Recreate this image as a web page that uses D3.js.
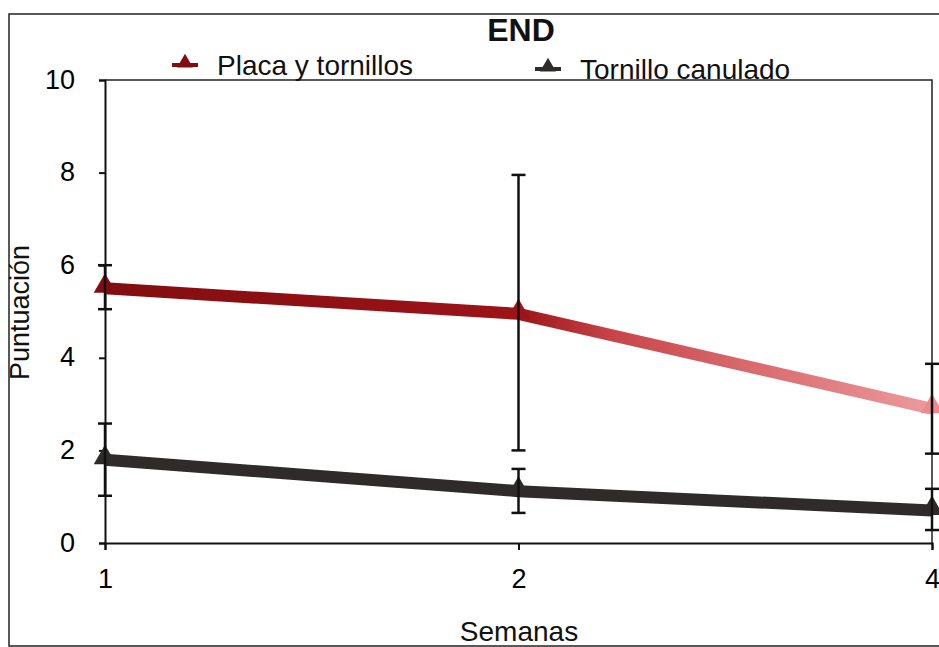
<!DOCTYPE html>
<html>
<head>
<meta charset="utf-8">
<script src="https://cdn.jsdelivr.net/npm/d3@7"></script>
<style>
  body { margin: 0; background: #fff; }
  svg { font-family: "Liberation Sans", Arial, sans-serif; }
</style>
</head>
<body>
<svg id="chart" width="939" height="647"></svg>
<script>
// data
var semanas = ["1", "2", "4"];
var placaMedia = [5.5, 4.95, 2.9];
var placaLow = [5.05, 2.0, 1.93];
var placaHigh = [6.0, 7.95, 3.87];
var canuladoMedia = [1.8, 1.12, 0.7];
var canuladoLow = [1.02, 0.65, 0.28];
var canuladoHigh = [2.58, 1.6, 1.17];
var yTicks = [0, 2, 4, 6, 8, 10];

var svg = d3.select("#chart");

var margin = {top: 80, right: 7, bottom: 104, left: 105},
    width = 939 - margin.left - margin.right,
    height = 647 - margin.top - margin.bottom;

var series = [
  {name: "Placa y tornillos", color: "#820d10", mean: placaMedia, lo: placaLow, hi: placaHigh},
  {name: "Tornillo canulado", color: "#302b2b", mean: canuladoMedia, lo: canuladoLow, hi: canuladoHigh}
];

var x = d3.scalePoint()
  .domain(semanas)
  .range([margin.left, margin.left + width]);

var y = d3.scaleLinear()
  .domain([0, 10])
  .range([margin.top + height, margin.top]);

// outer chart frame
svg.append("rect")
  .attr("x", 9).attr("y", 14)
  .attr("width", 1000).attr("height", 632)
  .attr("fill", "none")
  .attr("stroke", "#222")
  .attr("stroke-width", 1.5);

// red line fades toward the right like in the print
var grad = svg.append("defs").append("linearGradient")
  .attr("id", "redfade")
  .attr("gradientUnits", "userSpaceOnUse")
  .attr("x1", x("1")).attr("x2", x("4"))
  .attr("y1", 0).attr("y2", 0);
grad.append("stop").attr("offset", "0%").attr("stop-color", "#820d10");
grad.append("stop").attr("offset", "50%").attr("stop-color", "#9c1418");
grad.append("stop").attr("offset", "62%").attr("stop-color", "#c9474b");
grad.append("stop").attr("offset", "100%").attr("stop-color", "#ec9a9d");

// plot area box (top + right)
svg.append("path")
  .attr("d", "M" + margin.left + "," + y(10) + "H" + (x("4")) + "V" + y(0))
  .attr("fill", "none")
  .attr("stroke", "#222")
  .attr("stroke-width", 1.5);

// Y axis
svg.append("g")
  .attr("transform", "translate(" + margin.left + ",0)")
  .call(d3.axisLeft(y).tickValues(yTicks).tickSize(6).tickPadding(24))
  .call(function (g) {
    g.select(".domain").attr("stroke", "#111").attr("stroke-width", 2);
    g.selectAll(".tick line").attr("stroke", "#111").attr("stroke-width", 2);
    g.selectAll("text").attr("font-size", 27).attr("fill", "#000").attr("dy", "0.3em");
  });

// X axis
var xAxis = svg.append("g")
  .attr("transform", "translate(0," + y(0) + ")")
  .call(d3.axisBottom(x).tickSize(7));
xAxis.select(".domain").attr("stroke", "#111").attr("stroke-width", 2);
xAxis.selectAll(".tick line").attr("stroke", "#111").attr("stroke-width", 2);
xAxis.selectAll(".tick text")
  .attr("y", 45)
  .attr("dy", null)
  .attr("font-size", 27)
  .attr("fill", "#000");

// axis labels
svg.append("text")
  .attr("transform", "translate(29," + (y(5) + 1) + ")rotate(-90)")
  .attr("text-anchor", "middle")
  .attr("font-size", 27)
  .attr("fill", "#111")
  .text("Puntuación");

svg.append("text")
  .attr("x", 519).attr("y", 641)
  .attr("text-anchor", "middle")
  .attr("font-size", 28)
  .attr("fill", "#111")
  .text("Semanas");

// title
svg.append("text")
  .attr("x", 521).attr("y", 41)
  .attr("text-anchor", "middle")
  .attr("font-size", 32)
  .attr("font-weight", "bold")
  .attr("fill", "#111")
  .text("END");

var tri = d3.symbol().type(d3.symbolTriangle).size(220);

// lines, markers, error bars
series.forEach(function (s, si) {
  var pts = semanas.map(function (w, i) {
    return {w: w, m: s.mean[i], lo: s.lo[i], hi: s.hi[i]};
  });
  var stroke = si === 0 ? "url(#redfade)" : s.color;

  svg.append("path")
    .datum(pts)
    .attr("fill", "none")
    .attr("stroke", stroke)
    .attr("stroke-width", 12)
    .attr("stroke-linejoin", "round")
    .attr("d", d3.line().x(function (d) { return x(d.w); }).y(function (d) { return y(d.m); }));

  var fills = si === 0 ? ["#820d10", "#9c1418", "#e88c90"] : [s.color, s.color, s.color];

  svg.selectAll(".mk" + si)
    .data(pts)
    .enter()
    .append("path")
      .attr("class", "mk" + si)
      .attr("d", tri)
      .attr("transform", function (d) { return "translate(" + x(d.w) + "," + (y(d.m) - 2) + ")"; })
      .attr("fill", function (d, i) { return fills[i]; });

  var eb = svg.selectAll(".eb" + si)
    .data(pts)
    .enter()
    .append("g")
      .attr("class", "eb" + si)
      .attr("stroke", "#111")
      .attr("stroke-width", 2.5);
  eb.append("line")
    .attr("x1", function (d) { return x(d.w); })
    .attr("x2", function (d) { return x(d.w); })
    .attr("y1", function (d) { return y(d.lo); })
    .attr("y2", function (d) { return y(d.hi); });
  eb.append("line")
    .attr("x1", function (d) { return x(d.w) - 7; })
    .attr("x2", function (d) { return x(d.w) + 7; })
    .attr("y1", function (d) { return y(d.hi); })
    .attr("y2", function (d) { return y(d.hi); });
  eb.append("line")
    .attr("x1", function (d) { return x(d.w) - 7; })
    .attr("x2", function (d) { return x(d.w) + 7; })
    .attr("y1", function (d) { return y(d.lo); })
    .attr("y2", function (d) { return y(d.lo); });
});

// legend
var legX = [172, 535];
var legY = [65, 69];
series.forEach(function (s, i) {
  var g = svg.append("g").attr("transform", "translate(" + legX[i] + "," + legY[i] + ")");
  g.append("line")
    .attr("x1", 0).attr("x2", 26)
    .attr("y1", 0).attr("y2", 0)
    .attr("stroke", s.color)
    .attr("stroke-width", 4);
  g.append("path")
    .attr("d", d3.symbol().type(d3.symbolTriangle).size(110))
    .attr("transform", "translate(13,-2)")
    .attr("fill", s.color);
  g.append("text")
    .attr("x", 45).attr("y", 10)
    .attr("font-size", 28)
    .attr("fill", "#111")
    .text(s.name);
});
</script>
</body>
</html>
